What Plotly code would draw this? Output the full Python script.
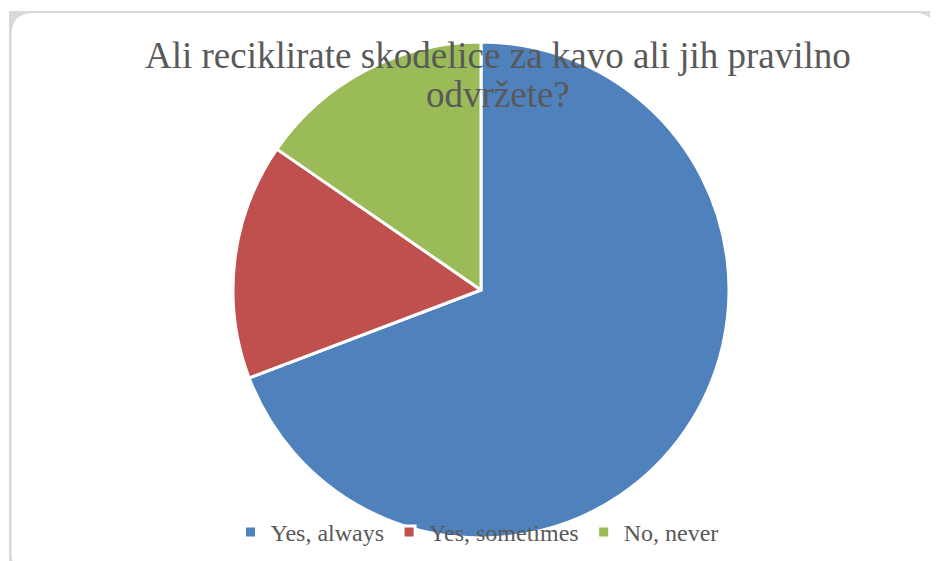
import plotly.graph_objects as go

categories = ["Yes, always", "Yes, sometimes", "No, never"]
values = [9, 2, 2]
colors = ["#4F81BD", "#C0504D", "#9BBB59"]
title_lines = ["Ali reciklirate skodelice za kavo ali jih pravilno", "odvržete?"]

W, H = 938, 561
OFF = 8  # page body margin offset

def px(x):
    return (x - OFF) / W

def py(y):
    return 1 - (y - OFF) / H

fig = go.Figure(go.Pie(
    labels=categories,
    values=values,
    marker=dict(colors=colors, line=dict(color="white", width=3)),
    sort=False,
    direction="clockwise",
    rotation=0,
    textinfo="none",
    hoverinfo="label+value+percent",
    domain=dict(x=[px(233), px(729)], y=[py(538), py(42)]),
))

# frame: gray backing + white rounded card
r = 22
x0, y0, x1, y1 = 11.5, 13, 936, 575
card = (f"M {px(x0+r)},{py(y0)} L {px(x1-r)},{py(y0)} "
        f"Q {px(x1)},{py(y0)} {px(x1)},{py(y0+r)} "
        f"L {px(x1)},{py(y1-r)} Q {px(x1)},{py(y1)} {px(x1-r)},{py(y1)} "
        f"L {px(x0+r)},{py(y1)} Q {px(x0)},{py(y1)} {px(x0)},{py(y1-r)} "
        f"L {px(x0)},{py(y0+r)} Q {px(x0)},{py(y0)} {px(x0+r)},{py(y0)} Z")

title_font = dict(family="Liberation Serif", size=37, color="#595959")
baselines = [69, 108]
annotations = [
    dict(text=t, xref="paper", yref="paper", x=px(498), y=py(b + 9),
         xanchor="center", yanchor="bottom", showarrow=False, font=title_font)
    for t, b in zip(title_lines, baselines)
]

fig.update_layout(
    width=W, height=H,
    margin=dict(l=0, r=0, t=0, b=0),
    paper_bgcolor="white",
    showlegend=True,
    annotations=annotations,
    legend=dict(
        orientation="h",
        x=px(477), xanchor="center",
        y=py(510), yanchor="top",
        font=dict(family="Liberation Serif", size=24, color="#595959"),
        bgcolor="rgba(0,0,0,0)",
        itemwidth=30,
    ),
    shapes=[
        dict(type="rect", xref="paper", yref="paper",
             x0=px(9), x1=px(946), y0=py(575), y1=py(11),
             fillcolor="#D9D9D9", line=dict(width=0), layer="below"),
        dict(type="path", xref="paper", yref="paper", path=card,
             fillcolor="white", line=dict(width=0), layer="below"),
    ],
)

fig.write_html("out.html")
